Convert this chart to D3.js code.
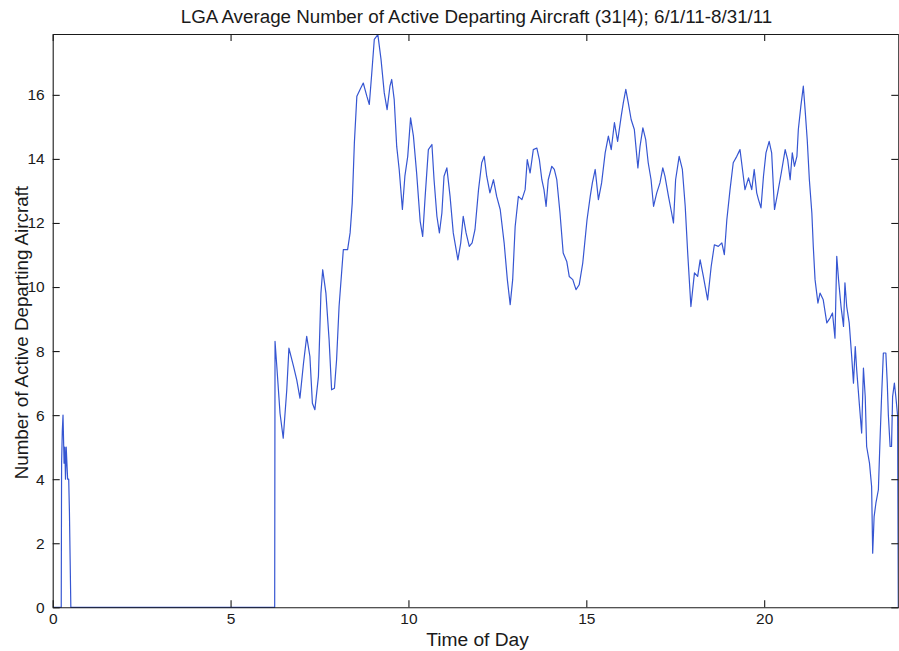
<!DOCTYPE html>
<html>
<head>
<meta charset="utf-8">
<script src="https://cdn.jsdelivr.net/npm/d3@7"></script>
<style>
  html, body { margin: 0; padding: 0; background: #fff; }
  svg { display: block; font-family: "Liberation Sans", Arial, Helvetica, sans-serif; }
</style>
</head>
<body>
<svg id="chart" width="899" height="651"></svg>
<script>
// Time of day (hours) and the average count of active departing aircraft at that time
const hours = [
  0, 0.24, 0.25, 0.27, 0.29, 0.31, 0.32, 0.34, 0.36, 0.38, 0.40, 0.42, 0.45, 0.47, 0.49, 0.51,
  6.24, 6.25, 6.30, 6.39, 6.48, 6.58, 6.64, 6.77, 6.86, 6.95, 7.05, 7.14, 7.23, 7.30, 7.37, 7.47,
  7.54, 7.59, 7.68, 7.77, 7.84, 7.92, 7.98, 8.05, 8.17, 8.29, 8.36, 8.42, 8.48, 8.55, 8.64, 8.73,
  8.83, 8.90, 8.97, 9.04, 9.14, 9.23, 9.32, 9.40, 9.48, 9.53, 9.60, 9.67, 9.74, 9.83, 9.90, 9.98,
  10.06, 10.14, 10.23, 10.33, 10.40, 10.47, 10.56, 10.66, 10.72, 10.80, 10.87, 10.94, 11.00, 11.08,
  11.17, 11.26, 11.39, 11.47, 11.54, 11.62, 11.71, 11.79, 11.87, 11.97, 12.06, 12.13, 12.20, 12.29,
  12.39, 12.48, 12.58, 12.69, 12.78, 12.86, 12.93, 13.00, 13.09, 13.19, 13.28, 13.34, 13.42, 13.51,
  13.61, 13.68, 13.75, 13.81, 13.87, 13.93, 14.03, 14.10, 14.17, 14.26, 14.35, 14.45, 14.52, 14.62,
  14.71, 14.80, 14.90, 15.02, 15.11, 15.17, 15.25, 15.34, 15.43, 15.53, 15.62, 15.70, 15.79, 15.88,
  15.98, 16.04, 16.11, 16.18, 16.26, 16.35, 16.45, 16.51, 16.59, 16.67, 16.74, 16.82, 16.89, 16.98,
  17.07, 17.15, 17.21, 17.31, 17.38, 17.45, 17.51, 17.61, 17.70, 17.78, 17.85, 17.94, 18.04, 18.13,
  18.20, 18.29, 18.41, 18.51, 18.60, 18.71, 18.81, 18.88, 18.95, 19.04, 19.13, 19.23, 19.32, 19.39,
  19.46, 19.56, 19.65, 19.72, 19.79, 19.84, 19.91, 19.98, 20.05, 20.14, 20.21, 20.29, 20.38, 20.48,
  20.59, 20.66, 20.73, 20.79, 20.85, 20.92, 20.96, 21.03, 21.10, 21.15, 21.21, 21.27, 21.34, 21.38,
  21.43, 21.51, 21.57, 21.66, 21.76, 21.85, 21.92, 21.99, 22.04, 22.09, 22.16, 22.23, 22.27, 22.32,
  22.39, 22.46, 22.51, 22.56, 22.60, 22.68, 22.74, 22.79, 22.84, 22.88, 22.96, 23.02, 23.05, 23.09,
  23.14, 23.21, 23.25, 23.30, 23.35, 23.42, 23.46, 23.49, 23.54, 23.58, 23.61, 23.66, 23.70, 23.75,
  23.77
];

const activeAircraft = [
  0, 0, 4.5, 5.5, 6.0, 5.0, 4.5, 5.0, 4.0, 5.0, 4.5, 4.0, 4.0, 3.0, 1.5, 0,
  0, 8.3, 7.52, 6.06, 5.28, 6.79, 8.09, 7.52, 7.10, 6.53, 7.62, 8.46, 7.83, 6.37, 6.17, 7.21,
  9.81, 10.54, 9.81, 8.35, 6.79, 6.84, 7.73, 9.39, 11.17, 11.17, 11.69, 12.62, 14.5, 15.96, 16.17, 16.37,
  15.96, 15.7, 16.69, 17.73, 17.88, 17.1, 16.06, 15.54, 16.27, 16.48, 15.85, 14.39, 13.67, 12.42, 13.46, 14.08,
  15.28, 14.71, 13.56, 12.05, 11.58, 12.83, 14.29, 14.45, 13.35, 12.21, 11.69, 12.31, 13.46, 13.72,
  12.83, 11.69, 10.85, 11.38, 12.21, 11.69, 11.27, 11.38, 11.79, 13.04, 13.88, 14.08, 13.46, 12.94,
  13.35, 12.83, 12.42, 11.38, 10.23, 9.45, 10.23, 11.89, 12.83, 12.73, 13.04, 13.98, 13.56, 14.29,
  14.34, 13.98, 13.35, 13.04, 12.52, 13.35, 13.77, 13.67, 13.35, 12.31, 11.06, 10.80, 10.33, 10.23,
  9.92, 10.07, 10.75, 12.1, 12.83, 13.25, 13.67, 12.73, 13.25, 14.19, 14.71, 14.29, 15.13, 14.55,
  15.33, 15.75, 16.17, 15.75, 15.23, 14.92, 13.72, 14.39, 14.97, 14.60, 13.88, 13.35, 12.52, 12.94,
  13.25, 13.72, 13.46, 12.83, 12.42, 12.0, 13.35, 14.08, 13.67, 12.52, 11.06, 9.39, 10.44, 10.33,
  10.85, 10.33, 9.60, 10.64, 11.32, 11.27, 11.38, 11.01, 12.10, 13.04, 13.88, 14.08, 14.29, 13.67,
  13.04, 13.41, 13.04, 13.67, 12.94, 12.73, 12.47, 13.46, 14.19, 14.55, 14.19, 12.42, 12.94, 13.56,
  14.29, 13.98, 13.35, 14.19, 13.77, 14.08, 14.92, 15.64, 16.27, 15.54, 14.60, 13.35, 12.31, 11.27,
  10.23, 9.50, 9.81, 9.60, 8.88, 9.03, 9.19, 8.40, 10.96, 10.23, 9.39, 8.77, 10.13, 9.39,
  8.88, 7.83, 7.0, 8.14, 7.42, 6.27, 5.44, 7.47, 6.58, 5.02, 4.5, 3.77, 1.69, 2.83,
  3.25, 3.67, 5.02, 6.58, 7.94, 7.94, 7.0, 6.01, 5.02, 5.02, 6.58, 7.0, 6.58, 6.0,
  0
];

const xTicks = [0, 5, 10, 15, 20];
const yTicks = [0, 2, 4, 6, 8, 10, 12, 14, 16];

const titleText = "LGA Average Number of Active Departing Aircraft (31|4); 6/1/11-8/31/11";
const xLabel = "Time of Day";
const yLabel = "Number of Active Departing Aircraft";

// Plot frame
const frame = { left: 52.7, right: 898.3, top: 34, bottom: 607.3 };
const xMax = 23.77, yMax = 17.9;
const tickLen = 7;
const ink = "#1a1a1a";

const svg = d3.select("#chart");

const x = d3.scaleLinear().domain([0, xMax]).range([frame.left, frame.right]);
const y = d3.scaleLinear().domain([0, yMax]).range([frame.bottom, frame.top]);

// Data line, clipped to the plot box
svg.append("clipPath").attr("id", "plotClip")
  .append("rect")
  .attr("x", frame.left).attr("y", frame.top - 1)
  .attr("width", frame.right - frame.left).attr("height", frame.bottom - frame.top + 2);

const points = hours.map((h, i) => [h, activeAircraft[i]]);
const line = d3.line().x(d => x(d[0])).y(d => y(d[1]));

svg.append("path")
  .datum(points)
  .attr("clip-path", "url(#plotClip)")
  .attr("fill", "none")
  .attr("stroke", "#3656d2")
  .attr("stroke-width", 1.2)
  .attr("stroke-linejoin", "round")
  .attr("d", line);

// Box axes with inward ticks on all four sides
function styleAxis(g, fontSize) {
  g.select(".domain").attr("stroke", ink).attr("stroke-width", 1.1);
  g.selectAll(".tick line").attr("stroke", ink).attr("stroke-width", 1.1);
  g.selectAll(".tick text").attr("fill", ink).style("font-size", fontSize + "px");
}

svg.append("g")
  .attr("transform", `translate(0,${frame.bottom})`)
  .call(d3.axisBottom(x).tickValues(xTicks).tickSizeInner(-tickLen).tickSizeOuter(0).tickPadding(6))
  .call(g => styleAxis(g, 15.5));

svg.append("g")
  .attr("transform", `translate(0,${frame.top})`)
  .call(d3.axisTop(x).tickValues(xTicks).tickSizeInner(-tickLen).tickSizeOuter(0).tickFormat(""))
  .call(g => styleAxis(g, 15.5));

svg.append("g")
  .attr("transform", `translate(${frame.left},0)`)
  .call(d3.axisLeft(y).tickValues(yTicks).tickSizeInner(-tickLen).tickSizeOuter(0).tickPadding(8))
  .call(g => styleAxis(g, 15.5));

svg.append("g")
  .attr("transform", `translate(${frame.right},0)`)
  .call(d3.axisRight(y).tickValues(yTicks).tickSizeInner(-tickLen).tickSizeOuter(0).tickFormat(""))
  .call(g => styleAxis(g, 15.5));

// Titles
svg.append("text")
  .attr("x", (frame.left + frame.right) / 2 + 1)
  .attr("y", 22.5)
  .attr("text-anchor", "middle")
  .attr("fill", ink)
  .style("font-size", "18.8px")
  .text(titleText);

svg.append("text")
  .attr("x", (frame.left + frame.right) / 2 + 2)
  .attr("y", 646)
  .attr("text-anchor", "middle")
  .attr("fill", ink)
  .style("font-size", "19.2px")
  .text(xLabel);

svg.append("text")
  .attr("transform", `translate(28,${(frame.top + frame.bottom) / 2 + 12}) rotate(-90)`)
  .attr("text-anchor", "middle")
  .attr("fill", ink)
  .style("font-size", "18.8px")
  .text(yLabel);
</script>
</body>
</html>
